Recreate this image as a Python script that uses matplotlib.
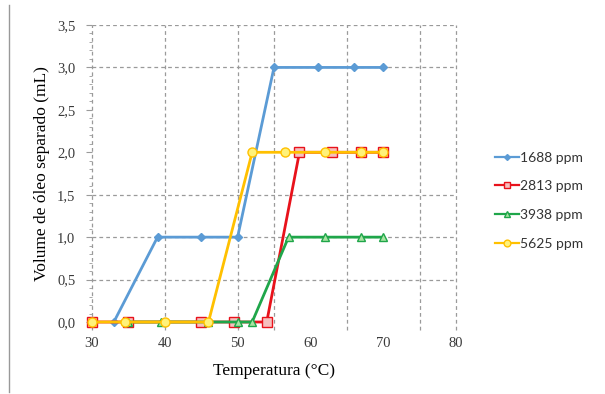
import matplotlib
matplotlib.use("Agg")
import matplotlib.pyplot as plt
from matplotlib.lines import Line2D
import numpy as np

# Data
x_1688 = [33, 39, 45, 50, 55, 61, 66, 70]
y_1688 = [0, 1, 1, 1, 3, 3, 3, 3]
x_2813 = [30, 35, 45, 49.5, 54, 58.5, 63, 67, 70]
y_2813 = [0, 0, 0, 0, 0, 2, 2, 2, 2]
x_3938 = [35, 39.5, 46, 50, 52, 57, 62, 67, 70]
y_3938 = [0, 0, 0, 0, 0, 1, 1, 1, 1]
x_5625 = [30, 34.5, 40, 46, 52, 56.5, 62, 67, 70]
y_5625 = [0, 0, 0, 0, 2, 2, 2, 2, 2]
labels = ["1688 ppm", "2813 ppm", "3938 ppm", "5625 ppm"]
x_ticks = [30, 40, 50, 60, 70, 80]
y_ticks = [0.0, 0.5, 1.0, 1.5, 2.0, 2.5, 3.0, 3.5]

serif = ["Liberation Serif", "DejaVu Serif"]

fig = plt.figure(figsize=(6.05, 3.94), dpi=100)
ax = fig.add_axes([92/605, 1-322/394, (456-92)/605, (322-25)/394])

gc = "#9a9a9a"
for gx in [30, 40, 50, 55, 65, 75, 80]:
    ax.plot([gx, gx], [-0.09, 3.5], color=gc, lw=0.9, ls=(0, (3, 2.5)), clip_on=False, zorder=1)
for gy in [0.5, 1.0, 1.5, 3.0, 3.5]:
    ax.axhline(gy, color=gc, lw=0.9, ls=(0, (3, 2.5)), zorder=1)

series = [
    (x_1688, y_1688, "#5B9BD5", "D", "#5B9BD5", 4),
    (x_2813, y_2813, "#E8121B", "s", "#F6C0BE", 6.5),
    (x_3938, y_3938, "#1FA64A", "^", "#A9E3A2", 6),
    (x_5625, y_5625, "#FFC000", "o", "#FFF27A", 6.5),
]
handles = []
for (xs, ys, c, m, fc, ms), lab in zip(series, labels):
    ax.plot(xs, ys, color=c, lw=2, marker=m, markerfacecolor=fc,
            markeredgecolor=c, markersize=ms, markeredgewidth=1,
            clip_on=False, zorder=3)
    handles.append(Line2D([0], [0], color=c, lw=1.6, marker=m, markerfacecolor=fc,
                          markeredgecolor=c, markersize=ms*0.75, markeredgewidth=1))

ax.set_xlim(30, 80)
ax.set_ylim(0, 3.5)
ax.set_xticks(x_ticks)
ax.set_xticklabels([str(v) for v in x_ticks], family=serif, fontsize=10.5, color="#3a3a3a")
ax.set_yticks(y_ticks)
ax.set_yticklabels([f"{v:.1f}".replace(".", ",") for v in y_ticks], family=serif, fontsize=10.5, color="#3a3a3a")
ax.set_yticks(np.arange(0, 3.51, 0.1), minor=True)
ax.tick_params(axis="x", length=0, pad=11)
ax.tick_params(axis="y", which="major", length=4, color=gc, direction="out", pad=8)
ax.tick_params(axis="y", which="minor", length=2.5, color=gc, direction="out")
for s in ["top", "right", "bottom", "left"]:
    ax.spines[s].set_visible(False)

ax.set_xlabel("Temperatura (°C)", family=serif, fontsize=12.5, labelpad=9)
ax.set_ylabel("Volume de óleo separado (mL)", family=serif, fontsize=12.5, labelpad=5)

leg = fig.legend(handles, labels, loc="upper left", bbox_to_anchor=(489/605, 1-146/394),
                 frameon=False, prop={"family": ["Lato", "DejaVu Sans"], "size": 10},
                 handlelength=1.75, labelspacing=1.2, handletextpad=0.1, borderaxespad=0)
for t in leg.get_texts():
    t.set_color("#333333")

fig.add_artist(Line2D([9/605, 9/605], [1-5/394, 1-392/394], color="#999999", lw=1))

fig.savefig("out.png", dpi=100)
